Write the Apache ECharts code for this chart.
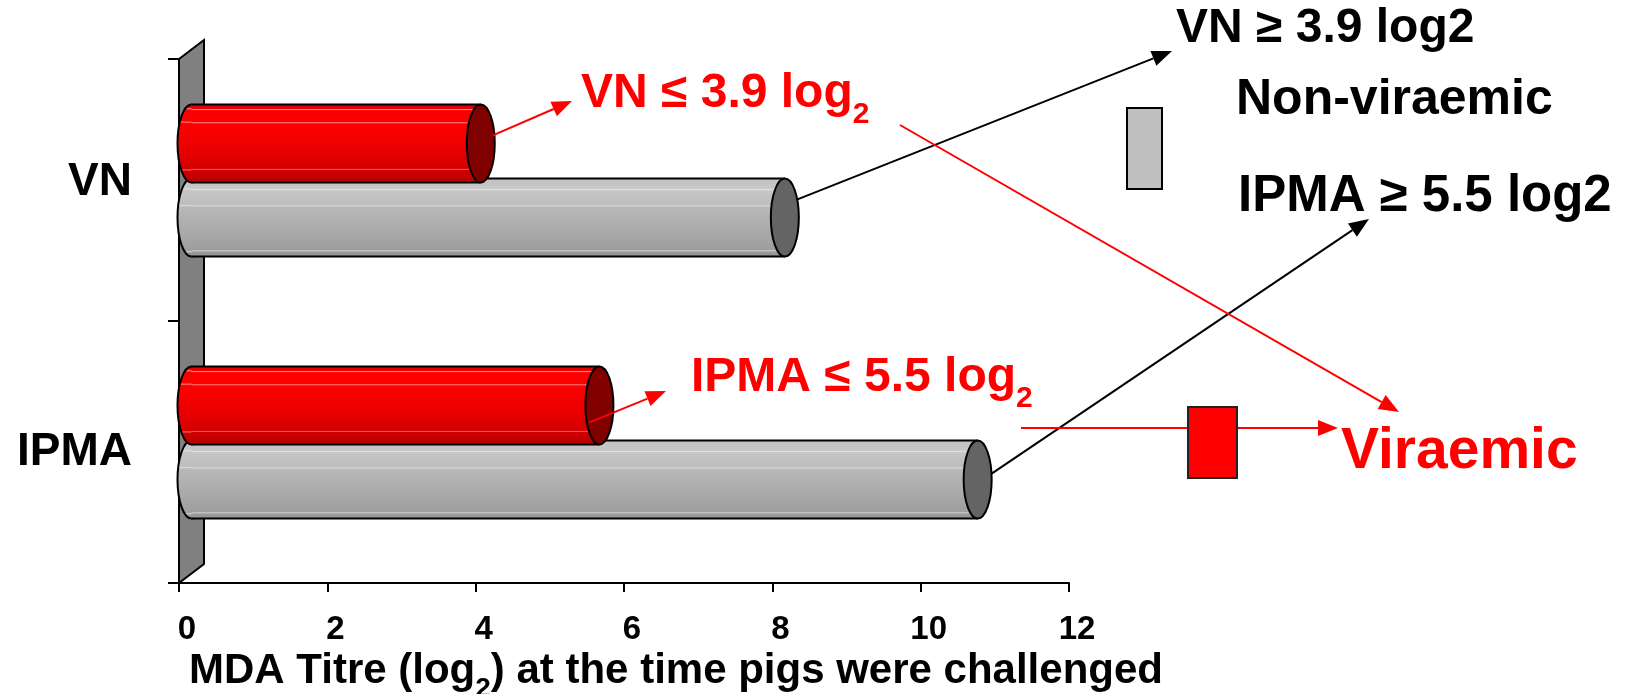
<!DOCTYPE html>
<html>
<head>
<meta charset="utf-8">
<script src="https://cdn.jsdelivr.net/npm/echarts@6/dist/echarts.min.js"></script>
<style>
  html, body { margin: 0; padding: 0; background: #fff; }
  #chart { width: 1637px; height: 694px; }
</style>
</head>
<body>
<div id="chart"></div>
<script>
// ---- data ----
const categories = ['VN', 'IPMA'];
const viraemicTitre = [3.9, 5.5];        // red cylinders
const nonViraemicTitre = [8.0, 10.6];    // grey cylinders
const xMin = 0, xMax = 12, xStep = 2;

// ---- layout / style constants ----
const FONT = '"Liberation Sans", Arial, Helvetica, sans-serif';
const GRID = { left: 179, right: 568, top: 59, bottom: 111 };
const DEPTH = [25, -19];          // 3-D depth offset of the floor
const BAR_FRAC = 0.298;           // cylinder thickness as share of a category band
const BAR_SHIFT = 0.1415;         // distance of each cylinder from the band centre
const CAP_RX = 14;                // horizontal radius of the end caps

const redFill = new echarts.graphic.LinearGradient(0, 0, 0, 1, [
  { offset: 0, color: '#d80000' }, { offset: 0.06, color: '#f00000' },
  { offset: 0.065, color: '#ff8a8a' }, { offset: 0.08, color: '#f80000' },
  { offset: 0.22, color: '#ff0000' }, { offset: 0.235, color: '#ff7878' },
  { offset: 0.25, color: '#ff0000' }, { offset: 0.6, color: '#e80000' },
  { offset: 0.82, color: '#d40000' }, { offset: 0.83, color: '#ee7070' },
  { offset: 0.845, color: '#d00000' }, { offset: 1, color: '#b80000' }
]);
const greyFill = new echarts.graphic.LinearGradient(0, 0, 0, 1, [
  { offset: 0, color: '#c2c2c2' }, { offset: 0.13, color: '#c8c8c8' },
  { offset: 0.14, color: '#e2e2e2' }, { offset: 0.155, color: '#c6c6c6' },
  { offset: 0.34, color: '#bdbdbd' }, { offset: 0.35, color: '#dcdcdc' },
  { offset: 0.365, color: '#b8b8b8' }, { offset: 0.7, color: '#a9a9a9' },
  { offset: 0.915, color: '#9d9d9d' }, { offset: 0.925, color: '#d0d0d0' },
  { offset: 0.94, color: '#9a9a9a' }, { offset: 1, color: '#939393' }
]);

// cylinder drawn from the axis value through the library's coordinate system
function cylinder(shift, fill, capColor) {
  return function (params, api) {
    const v = api.value(0), c = api.value(1);
    const p0 = api.coord([0, c]);
    const p1 = api.coord([v, c]);
    const band = api.size([0, 1])[1];
    const h = band * BAR_FRAC;
    const cy = p0[1] + DEPTH[1] / 2 + band * shift;
    const x0 = p0[0] + DEPTH[0] / 2;
    const x1 = p1[0] + DEPTH[0] / 2;
    const top = cy - h / 2, bot = cy + h / 2;
    const edge = { stroke: '#000', lineWidth: 2 };
    return {
      type: 'group',
      children: [
        { type: 'ellipse', shape: { cx: x0, cy: cy, rx: CAP_RX, ry: h / 2 },
          style: { fill: fill, stroke: '#000', lineWidth: 2 } },
        { type: 'rect', shape: { x: x0, y: top, width: x1 - x0, height: h },
          style: { fill: fill } },
        { type: 'line', shape: { x1: x0, y1: top, x2: x1, y2: top }, style: edge },
        { type: 'line', shape: { x1: x0, y1: bot, x2: x1, y2: bot }, style: edge },
        { type: 'ellipse', shape: { cx: x1, cy: cy, rx: CAP_RX, ry: h / 2 },
          style: { fill: capColor, stroke: '#000', lineWidth: 2 } }
      ]
    };
  };
}

const chart = echarts.init(document.getElementById('chart'), null, { renderer: 'canvas' });

chart.setOption({
  animation: false,
  backgroundColor: '#fff',
  grid: Object.assign({ containLabel: false, outerBoundsMode: 'none' }, GRID),
  xAxis: {
    type: 'value',
    min: xMin, max: xMax, interval: xStep,
    axisLine: { show: true, lineStyle: { color: '#000', width: 2 } },
    axisTick: { show: true, length: 9, lineStyle: { color: '#000', width: 2 } },
    splitLine: { show: false },
    axisLabel: {
      margin: 30, color: '#000', fontFamily: FONT, fontWeight: 'bold', fontSize: 33,
      padding: [0, 0, 0, 16]
    },
    name: '{t|MDA Titre (log}{s|2}{t|) at the time pigs were challenged}',
    nameLocation: 'middle',
    nameGap: 67,
    nameTextStyle: {
      padding: [0, 0, 0, 104],
      rich: {
        t: { fontFamily: FONT, fontWeight: 'bold', fontSize: 42, color: '#000',
             verticalAlign: 'bottom', padding: [0, 0, 10, 0] },
        s: { fontFamily: FONT, fontWeight: 'bold', fontSize: 28, color: '#000',
             verticalAlign: 'bottom' }
      }
    }
  },
  yAxis: {
    type: 'category',
    data: categories,
    inverse: true,
    axisLine: { show: true, lineStyle: { color: '#000', width: 2 } },
    axisTick: { show: true, length: 11, lineStyle: { color: '#000', width: 2 } },
    axisLabel: {
      margin: 47, color: '#000', fontFamily: FONT, fontWeight: 'bold', fontSize: 46,
      formatter: function (v) { return v === 'VN' ? '{up|' + v + '}' : v; },
      rich: { up: { fontFamily: FONT, fontWeight: 'bold', fontSize: 46, color: '#000',
                    padding: [0, 0, 16, 0] } }
    }
  },
  series: [
    {
      name: 'Non-viraemic', type: 'custom', z: 3,
      renderItem: cylinder(BAR_SHIFT, greyFill, '#646464'),
      encode: { x: 0, y: 1 },
      data: nonViraemicTitre.map((v, i) => [v, i])
    },
    {
      name: 'Viraemic', type: 'custom', z: 4,
      renderItem: cylinder(-BAR_SHIFT, redFill, '#800000'),
      encode: { x: 0, y: 1 },
      data: viraemicTitre.map((v, i) => [v, i])
    }
  ]
});

// ---- decorations: side wall, legend boxes, annotations and arrows ----
function px(value, c) { return chart.convertToPixel({ gridIndex: 0 }, [value, c]); }
const bandH = px(0, 1)[1] - px(0, 0)[1];
function capCentre(value, c, shift) {
  const p = px(value, c);
  return [p[0] + DEPTH[0] / 2, p[1] + DEPTH[1] / 2 + bandH * shift];
}
function arrow(from, to, color) {
  const a = Math.atan2(to[1] - from[1], to[0] - from[0]);
  const L = 20, W = 8;
  const base = [to[0] - L * Math.cos(a), to[1] - L * Math.sin(a)];
  const l = [base[0] + W * Math.sin(a), base[1] - W * Math.cos(a)];
  const r = [base[0] - W * Math.sin(a), base[1] + W * Math.cos(a)];
  return [
    { type: 'line', z: 20, shape: { x1: from[0], y1: from[1], x2: base[0], y2: base[1] },
      style: { stroke: color, lineWidth: 2 } },
    { type: 'polygon', z: 20, shape: { points: [to, l, r] }, style: { fill: color } }
  ];
}
function label(x, y, text, color, size, subSize) {
  return {
    type: 'text', z: 20, x: x, y: y,
    style: {
      text: text, verticalAlign: 'middle', align: 'left',
      rich: {
        t: { fontFamily: FONT, fontWeight: 'bold', fontSize: size, fill: color,
             verticalAlign: 'bottom', padding: [0, 0, Math.round(size * 0.26), 0] },
        s: { fontFamily: FONT, fontWeight: 'bold', fontSize: subSize || size * 0.62, fill: color,
             verticalAlign: 'bottom' }
      }
    }
  };
}

const gridTop = GRID.top, gridBottom = 694 - GRID.bottom;
const wallX = px(0, 0)[0];

const redVN = capCentre(viraemicTitre[0], 0, -BAR_SHIFT);
const redIP = capCentre(viraemicTitre[1], 1, -BAR_SHIFT);
const greyVN = capCentre(nonViraemicTitre[0], 0, BAR_SHIFT);
const greyIP = capCentre(nonViraemicTitre[1], 1, BAR_SHIFT);

const els = [
  { type: 'polygon', z: 1,
    shape: { points: [[wallX, gridTop], [wallX + DEPTH[0], gridTop + DEPTH[1]],
                      [wallX + DEPTH[0], gridBottom + DEPTH[1]], [wallX, gridBottom]] },
    style: { fill: '#808080', stroke: '#000', lineWidth: 2 } },
  // legend keys
  { type: 'rect', z: 15, shape: { x: 1127, y: 108, width: 35, height: 81 },
    style: { fill: '#c0c0c0', stroke: '#000', lineWidth: 2 } },
  { type: 'rect', z: 25, shape: { x: 1188, y: 407, width: 49, height: 71 },
    style: { fill: '#ff0000', stroke: '#222', lineWidth: 2 } },
  // annotations
  label(581, 100, '{t|VN ≤ 3.9 log}{s|2}', '#ff0000', 48, 30),
  label(691, 384, '{t|IPMA ≤ 5.5 log}{s|2}', '#ff0000', 48, 30),
  { type: 'text', z: 20, x: 1176, y: 29,
    style: { text: 'VN ≥ 3.9 log2', fontFamily: FONT, fontWeight: 'bold', fontSize: 48,
             fill: '#000', verticalAlign: 'middle' } },
  { type: 'text', z: 20, x: 1236, y: 100,
    style: { text: 'Non-viraemic', fontFamily: FONT, fontWeight: 'bold', fontSize: 50,
             fill: '#000', verticalAlign: 'middle' } },
  { type: 'text', z: 20, x: 1238, y: 197,
    style: { text: 'IPMA ≥ 5.5 log2', fontFamily: FONT, fontWeight: 'bold', fontSize: 51,
             fill: '#000', verticalAlign: 'middle' } },
  { type: 'text', z: 20, x: 1341, y: 452,
    style: { text: 'Viraemic', fontFamily: FONT, fontWeight: 'bold', fontSize: 57,
             fill: '#ff0000', verticalAlign: 'middle' } }
].concat(
  arrow([redVN[0] + 12, redVN[1] - 8], [572, 101], '#ff0000'),
  arrow([redIP[0] - 10, redIP[1] + 17], [666, 391], '#ff0000'),
  arrow([greyVN[0] + 12, greyVN[1] - 18], [1172, 51], '#000'),
  arrow([greyIP[0] + 14, greyIP[1] - 6], [1369, 219], '#000'),
  arrow([900, 125], [1399, 412], '#ff0000'),
  arrow([1021, 428], [1338, 428], '#ff0000')
);

chart.setOption({ graphic: { elements: els } });
</script>
</body>
</html>
